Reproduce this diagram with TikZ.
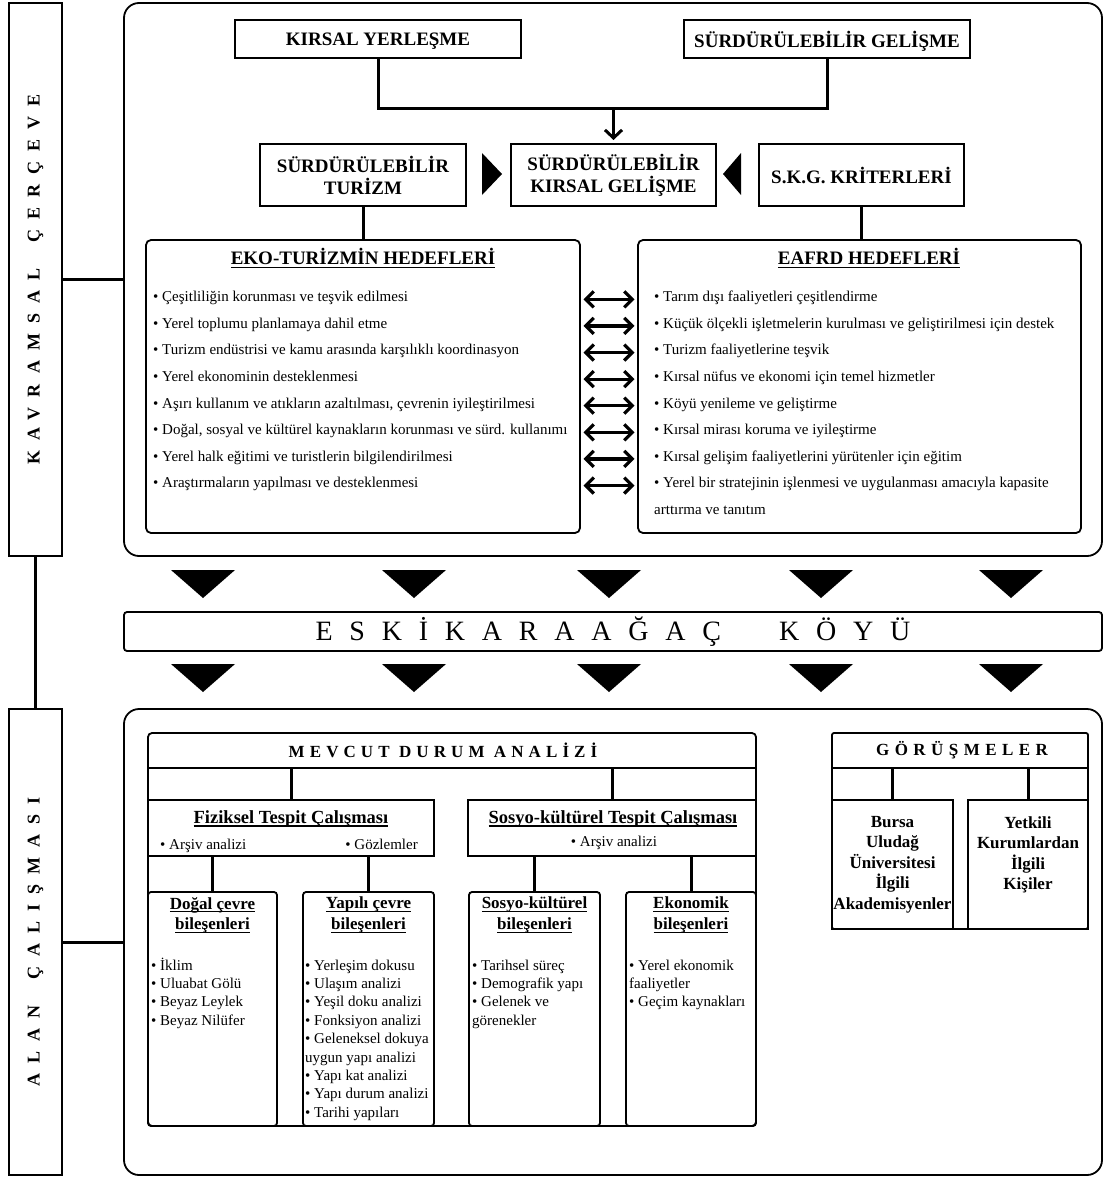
\documentclass[tikz,border=0pt]{standalone}
\usepackage{fontspec}
\setmainfont{Liberation Serif}
\usetikzlibrary{arrows.meta}
\newcommand\alti[1]{\leavevmode\setbox0\hbox{#1}\rlap{\rule[-3.5pt]{\wd0}{1.4pt}}\box0}
\begin{document}
\begin{tikzpicture}[x=1pt,y=-1pt,
   kutu/.style={draw,line width=1.8pt,inner sep=0pt,outer sep=0pt},
   baslik/.style={kutu,align=center,font=\fontsize{19}{22}\selectfont\bfseries},
   hedef/.style={kutu,rounded corners=5pt},
   cerceve/.style={kutu,rounded corners=15pt,minimum width=978pt},
   etiket/.style={kutu,minimum width=53pt,font=\fontsize{18}{20}\selectfont\bfseries\addfontfeature{LetterSpace=56}},
   altbaslik/.style={align=center,inner sep=0pt,font=\fontsize{17}{20.5}\selectfont\bfseries},
   tespit/.style={inner sep=0pt,anchor=base,font=\fontsize{18.5}{22}\selectfont\bfseries},
   madde/.style={anchor=base west,inner sep=0pt,font=\fontsize{15}{18}\selectfont},
   cizgi/.style={line width=3pt},
   cift/.style={line width=3.2pt,{Straight Barb[length=8pt,width=16pt]}-{Straight Barb[length=8pt,width=16pt]},shorten <=3.5pt,shorten >=3.5pt}]
   \useasboundingbox (0,0) rectangle (1104,1178);
   % Kavramsal cerceve
   \node[etiket,minimum height=553pt] (etiketK) at (35.5,279.5) {\rotatebox{90}{KAVRAMSAL\hspace{26pt}ÇERÇEVE}};
   \node[cerceve,minimum height=553pt] (kavram) at (613,279.5) {};
   \draw[cizgi] (etiketK.east) -- (kavram.west);
   % Ust kutular
   \node[baslik,text depth=0pt,minimum width=286pt,minimum height=38pt] (kirsal) at (378,39) {KIRSAL YERLEŞME};
   \node[baslik,text depth=0pt,minimum width=286pt,minimum height=38pt] (gelisme) at (827,39) {SÜRDÜRÜLEBİLİR GELİŞME};
   \node[baslik,minimum width=206pt,minimum height=62pt] (turizm) at (363,175) {SÜRDÜRÜLEBİLİR\\TURİZM};
   \node[baslik,minimum width=205pt,minimum height=62pt] (skg) at (613.5,175) {SÜRDÜRÜLEBİLİR\\KIRSAL GELİŞME};
   \node[baslik,minimum width=205pt,minimum height=62pt] (kriter) at (861.5,175) {S.K.G. KRİTERLERİ};
   \coordinate (birles) at (613.5,108);
   \draw[cizgi] (kirsal.south) |- (birles) -| (gelisme.south);
   \draw[cizgi,-{Straight Barb[length=8pt,width=17pt]},shorten >=4pt] (birles) -- (skg.north);
   \fill (482,153) -- (502,174) -- (482,195) -- cycle;
   \fill (741,153) -- (723,174) -- (741,195) -- cycle;
   % Hedefler
   \node[hedef,minimum width=434pt,minimum height=293pt] (eko) at (363,386.5) {};
   \node[hedef,minimum width=443pt,minimum height=293pt] (eafrd) at (859.5,386.5) {};
   \draw[cizgi] (turizm.south) -- (eko.north);
   \draw[cizgi] (kriter.south) -- (kriter.south |- eafrd.north);
   \node[tespit,font=\fontsize{19}{22}\selectfont\bfseries] (ekoBaslik) at (363,264.5) {\alti{EKO-TURİZMİN HEDEFLERİ}};
   \node[tespit,font=\fontsize{19}{22}\selectfont\bfseries] (eafrdBaslik) at (869,264.5) {\alti{EAFRD HEDEFLERİ}};
   \foreach \t [count=\i] in {• Çeşitliliğin korunması ve teşvik edilmesi,
      • Yerel toplumu planlamaya dahil etme,
      • Turizm endüstrisi ve kamu arasında karşılıklı koordinasyon,
      • Yerel ekonominin desteklenmesi,
      {• Aşırı kullanım ve atıkların azaltılması, çevrenin iyileştirilmesi},
      {• Doğal, sosyal ve kültürel kaynakların korunması ve sürd. kullanımı},
      • Yerel halk eğitimi ve turistlerin bilgilendirilmesi,
      • Araştırmaların yapılması ve desteklenmesi}
      \node[madde] (eko\i) at (153,275+26.6*\i) {\t};
   \foreach \t [count=\i] in {• Tarım dışı faaliyetleri çeşitlendirme,
      • Küçük ölçekli işletmelerin kurulması ve geliştirilmesi için destek,
      • Turizm faaliyetlerine teşvik,
      • Kırsal nüfus ve ekonomi için temel hizmetler,
      • Köyü yenileme ve geliştirme,
      • Kırsal mirası koruma ve iyileştirme,
      • Kırsal gelişim faaliyetlerini yürütenler için eğitim,
      • Yerel bir stratejinin işlenmesi ve uygulanması amacıyla kapasite,
      arttırma ve tanıtım}
      \node[madde] (eafrd\i) at (654,275+26.6*\i) {\t};
   \foreach \i in {1,...,8}
      \draw[cift] (eko.east |- eko\i.mid) -- (eafrd.west |- eko\i.mid);
   % Koy
   \foreach \x in {203,414,609,821,1011} {
      \fill (\x-32,570) -- (\x+32,570) -- (\x,598) -- cycle;
      \fill (\x-32,664) -- (\x+32,664) -- (\x,692) -- cycle;
   }
   \node[kutu,rounded corners=3pt,minimum width=978pt,minimum height=39pt,
      font=\fontsize{28}{30}\selectfont\addfontfeature{LetterSpace=60}] (koy) at (613,631.5) {ESKİKARAAĞAÇ\hspace{58pt}KÖYÜ};
   % Alan calismasi
   \node[etiket,minimum height=466pt] (etiketA) at (35.5,942) {\rotatebox{90}{ALAN\hspace{26pt}ÇALIŞMASI}};
   \node[cerceve,minimum height=466pt] (alan) at (613,942) {};
   \draw[cizgi] (etiketK.south) -- (etiketA.north);
   \draw[cizgi] (etiketA.east) -- (alan.west);
   % Mevcut durum analizi
   \node[kutu,rounded corners=4pt,minimum width=608pt,minimum height=393pt] (mevcut) at (452,929.5) {};
   \coordinate (bant) at (452,768);
   \draw[kutu] (mevcut.west |- bant) -- (mevcut.east |- bant);
   \node[inner sep=0pt,font=\fontsize{17}{20}\selectfont\bfseries\addfontfeature{LetterSpace=30}] (mevcutBaslik) at (443,750) {MEVCUT DURUM ANALİZİ};
   \node[kutu,minimum width=286pt,minimum height=56pt] (fiziksel) at (291,828) {};
   \node[tespit] (fizBaslik) at (291,823) {\alti{Fiziksel Tespit Çalışması}};
   \node[madde] (fizMadde1) at (160,849) {• Arşiv analizi};
   \node[madde,anchor=base east] (fizMadde2) at (418,849) {• Gözlemler};
   \node[kutu,minimum width=288pt,minimum height=56pt] (sosyo) at (612,828) {};
   \node[tespit] (sosBaslik) at (613,823) {\alti{Sosyo-kültürel Tespit Çalışması}};
   \node[madde,anchor=base] (sosMadde) at (614,846) {• Arşiv analizi};
   \draw[cizgi] (fiziksel.north |- bant) -- (fiziksel.north);
   \draw[cizgi] (sosyo.north |- bant) -- (sosyo.north);
   % Bilesenler
   \node[kutu,rounded corners=3pt,minimum width=129pt,minimum height=234pt] (dogal) at (212.5,1009) {};
   \node[kutu,rounded corners=3pt,minimum width=131pt,minimum height=234pt] (yapili) at (368.5,1009) {};
   \node[kutu,rounded corners=3pt,minimum width=131pt,minimum height=234pt] (sosyoBil) at (534.5,1009) {};
   \node[kutu,rounded corners=3pt,minimum width=130pt,minimum height=234pt] (ekonomik) at (691,1009) {};
   \draw[cizgi] (fiziksel.south -| dogal.north) -- (dogal.north);
   \draw[cizgi] (fiziksel.south -| yapili.north) -- (yapili.north);
   \draw[cizgi] (sosyo.south -| sosyoBil.north) -- (sosyoBil.north);
   \draw[cizgi] (sosyo.south -| ekonomik.north) -- (ekonomik.north);
   \node[altbaslik] (dogalBaslik) at (212.5,915) {\alti{Doğal çevre}\\\alti{bileşenleri}};
   \node[altbaslik] (yapiliBaslik) at (368.5,915) {\alti{Yapılı çevre}\\\alti{bileşenleri}};
   \node[altbaslik] (sosyoBilBaslik) at (534.5,915) {\alti{Sosyo-kültürel}\\\alti{bileşenleri}};
   \node[altbaslik] (ekonomikBaslik) at (691,915) {\alti{Ekonomik}\\\alti{bileşenleri}};
   \foreach \t [count=\i] in {• İklim, • Uluabat Gölü, • Beyaz Leylek, • Beyaz Nilüfer}
      \node[madde] (dogal\i) at (151,951.6+18.4*\i) {\t};
   \foreach \t [count=\i] in {• Yerleşim dokusu, • Ulaşım analizi, • Yeşil doku analizi,
      • Fonksiyon analizi, • Geleneksel dokuya, uygun yapı analizi, • Yapı kat analizi,
      • Yapı durum analizi, • Tarihi yapıları}
      \node[madde] (yapili\i) at (305,951.6+18.4*\i) {\t};
   \foreach \t [count=\i] in {• Tarihsel süreç, • Demografik yapı, • Gelenek ve, görenekler}
      \node[madde] (sosyoBil\i) at (472,951.6+18.4*\i) {\t};
   \foreach \t [count=\i] in {• Yerel ekonomik, faaliyetler, • Geçim kaynakları}
      \node[madde] (ekonomik\i) at (629,951.6+18.4*\i) {\t};
   % Gorusmeler
   \node[kutu,rounded corners=2pt,minimum width=256pt,minimum height=196pt] (gorusme) at (960,831) {};
   \coordinate (bant2) at (960,768);
   \draw[kutu] (gorusme.west |- bant2) -- (gorusme.east |- bant2);
   \node[inner sep=0pt,font=\fontsize{17}{20}\selectfont\bfseries\addfontfeature{LetterSpace=32}] (gorusmeBaslik) at (962,750) {GÖRÜŞMELER};
   \node[kutu,minimum width=121pt,minimum height=129pt] (bursa) at (892.5,864.5) {};
   \node[kutu,minimum width=120pt,minimum height=129pt] (yetkili) at (1028,864.5) {};
   \draw[cizgi] (bursa.north |- bant2) -- (bursa.north);
   \draw[cizgi] (yetkili.north |- bant2) -- (yetkili.north);
   \node[altbaslik,anchor=north] (bursaYazi) at (892.5,816) {Bursa\\Uludağ\\Üniversitesi\\İlgili\\Akademisyenler};
   \node[altbaslik,anchor=north] (yetkiliYazi) at (1028,816) {Yetkili\\Kurumlardan\\İlgili\\Kişiler};
\end{tikzpicture}
\end{document}
